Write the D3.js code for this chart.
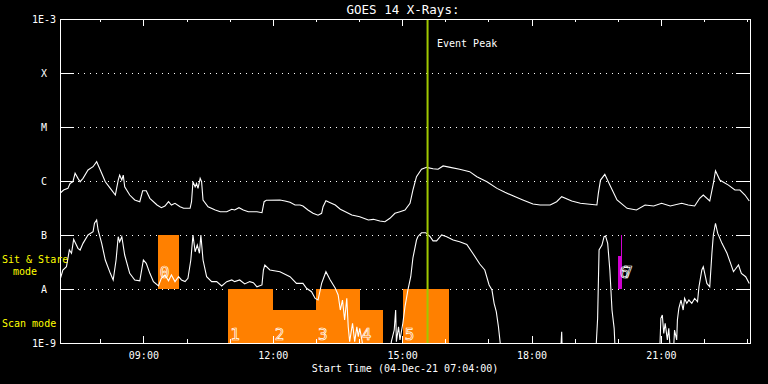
<!DOCTYPE html>
<html>
<head>
<meta charset="utf-8">
<script src="https://cdn.jsdelivr.net/npm/d3@7"></script>
<style>
body { margin: 0; background: #000; }
svg { display: block; background: #000; }
text { font-family: "DejaVu Sans Mono", monospace; fill: #fff; font-size: 10px; }
</style>
</head>
<body>
<svg class="chart" width="768" height="384"></svg>
<script>
// long channel (1-8 A), upper curve
const longTimes = ["07:04","07:09","07:15","07:18","07:22","07:25","07:29","07:32","07:36","07:43","07:50","07:55","07:57","08:02","08:07","08:14","08:21","08:25","08:27","08:30","08:32","08:34","08:41","08:48","08:55","08:59","09:04","09:09","09:19","09:25","09:30","09:35","09:39","09:44","09:51","09:56","10:05","10:07","10:09","10:12","10:14","10:16","10:19","10:21","10:23","10:30","10:40","10:47","10:56","11:03","11:07","11:13","11:19","11:26","11:38","11:45","11:48","11:51","12:10","12:17","12:24","12:31","12:38","12:42","12:49","12:56","13:03","13:08","13:10","13:14","13:20","13:27","13:34","13:41","13:50","14:01","14:13","14:20","14:29","14:36","14:43","14:50","14:57","15:04","15:11","15:15","15:20","15:27","15:34","15:43","15:50","15:57","16:07","16:20","16:34","16:44","16:58","17:12","17:23","17:39","17:48","18:02","18:12","18:26","18:35","18:42","18:56","19:08","19:21","19:31","19:33","19:36","19:42","19:49","19:59","20:13","20:26","20:38","20:50","21:01","21:13","21:29","21:38","21:47","21:54","21:59","22:08","22:13","22:16","22:22","22:34","22:43","22:50","22:57","23:03"];
const longFlux = [5.9e-7,6.8e-7,7.3e-7,9.0e-7,9.7e-7,1.39e-6,1.12e-6,9.7e-7,1.12e-6,1.6e-6,1.84e-6,2.28e-6,1.98e-6,1.39e-6,9.7e-7,7.3e-7,5.5e-7,1.04e-6,1.29e-6,1.04e-6,1.29e-6,7.8e-7,5.5e-7,4.45e-7,4.14e-7,6.6e-7,6.6e-7,4.78e-7,3.59e-7,3.2e-7,3.44e-7,4.14e-7,3.59e-7,3.86e-7,3.34e-7,3.12e-7,3.12e-7,4.14e-7,9.7e-7,7.8e-7,9.0e-7,7.3e-7,1.12e-6,9.7e-7,4.45e-7,3.34e-7,2.9e-7,2.7e-7,2.7e-7,2.99e-7,2.9e-7,3.2e-7,2.9e-7,2.7e-7,2.7e-7,2.59e-7,4.14e-7,4.4e-7,4.45e-7,4.26e-7,4.03e-7,3.59e-7,3.59e-7,3.44e-7,2.9e-7,2.52e-7,2.32e-7,2.52e-7,3.34e-7,4.32e-7,3.97e-7,3.59e-7,3.0e-7,2.7e-7,2.35e-7,2.18e-7,1.9e-7,1.95e-7,1.82e-7,1.76e-7,2.04e-7,2.52e-7,2.7e-7,2.9e-7,3.86e-7,6.8e-7,1.2e-6,1.65e-6,1.79e-6,1.69e-6,1.65e-6,1.9e-6,1.79e-6,1.65e-6,1.49e-6,1.2e-6,9.7e-7,7.3e-7,6.17e-7,4.99e-7,4.45e-7,3.75e-7,3.59e-7,3.59e-7,4.14e-7,5.12e-7,4.26e-7,3.86e-7,3.7e-7,3.59e-7,5.9e-7,1.04e-6,1.33e-6,8.4e-7,4.45e-7,3.12e-7,2.9e-7,3.59e-7,3.44e-7,3.86e-7,3.44e-7,3.86e-7,3.59e-7,3.44e-7,4.78e-7,5.5e-7,4.26e-7,9.0e-7,1.55e-6,1.04e-6,8.4e-7,6.8e-7,6.8e-7,5.5e-7,4.26e-7];

// short channel (0.5-4 A), lower curve
const shortTimes = ["07:04","07:08","07:13","07:17","07:20","07:23","07:29","07:32","07:36","07:43","07:50","07:52","07:55","07:57","08:02","08:07","08:14","08:18","08:22","08:25","08:27","08:30","08:34","08:41","08:48","08:55","09:00","09:04","09:09","09:14","09:21","09:25","09:30","09:35","09:39","09:44","09:49","09:53","09:58","10:02","10:06","10:09","10:12","10:15","10:18","10:20","10:23","10:28","10:35","10:42","10:49","10:56","11:03","11:07","11:14","11:21","11:28","11:33","11:38","11:45","11:47","11:49","11:56","12:10","12:24","12:33","12:42","12:47","12:54","12:59","13:03","13:08","13:14","13:20","13:27","13:31","13:34","13:37","13:40","13:43","13:45","13:47","13:51","13:54","13:57","13:59","14:01","14:04","14:08","14:43","14:45","14:49","14:51","14:52","14:55","14:57","15:01","15:04","15:08","15:12","15:15","15:20","15:22","15:27","15:33","15:39","15:43","15:48","15:55","16:02","16:11","16:20","16:30","16:39","16:48","16:55","17:01","17:05","17:08","17:11","17:14","17:16","17:19","18:40","18:42","18:43","19:29","19:32","19:34","19:38","19:41","19:43","19:46","19:49","19:52","19:55","19:57","20:58","21:00","21:02","21:04","21:06","21:09","21:11","21:14","21:17","21:19","21:22","21:23","21:25","21:28","21:31","21:33","21:36","21:39","21:43","21:47","21:51","21:53","21:57","21:59","22:01","22:04","22:08","22:11","22:13","22:16","22:19","22:25","22:32","22:37","22:41","22:48","22:52","22:58","23:03"];
const shortFlux = [1.47e-8,2.25e-8,2.59e-8,5.27e-8,4.58e-8,8.3e-8,5.67e-8,5.27e-8,7.0e-8,1.0e-7,1.15e-7,1.65e-7,1.9e-7,1.24e-7,7.0e-8,3.44e-8,1.95e-8,1.47e-8,3.44e-8,9.3e-8,7.5e-8,9.3e-8,4.26e-8,1.95e-8,1.47e-8,1.42e-8,3.44e-8,2.99e-8,1.95e-8,1.37e-8,1.14e-8,1.58e-8,1.82e-8,1.42e-8,1.82e-8,1.37e-8,1.69e-8,1.47e-8,1.37e-8,1.58e-8,3.44e-8,1.0e-7,4.9e-8,6.52e-8,4.58e-8,1.0e-7,3.44e-8,1.69e-8,1.37e-8,1.37e-8,1.14e-8,1.37e-8,1.47e-8,1.37e-8,1.47e-8,1.24e-8,1.37e-8,1.31e-8,1.1e-8,1.19e-8,2.25e-8,2.78e-8,2.25e-8,2.09e-8,1.69e-8,1.27e-8,1.27e-8,1.03e-8,8.9e-9,6.7e-9,6.25e-9,1.27e-8,2.09e-8,1.47e-8,1.03e-8,7.74e-9,4.08e-9,6.25e-9,2.67e-9,6.7e-9,2.0e-9,1.06e-9,2.32e-9,1.06e-9,2.0e-9,1.31e-9,1.87e-9,1.14e-9,5e-10,5e-10,1.06e-9,1.74e-9,4.08e-9,1.06e-9,2.0e-9,1.14e-9,2.32e-9,4.7e-9,9.56e-9,1.69e-8,3.75e-8,8.07e-8,9.4e-8,1.1e-7,1.1e-7,9.3e-8,7.8e-8,7.8e-8,1.0e-7,9.3e-8,8.07e-8,7.5e-8,6.7e-8,4.45e-8,2.9e-8,2.25e-8,1.19e-8,9.56e-9,5.43e-9,3.8e-9,2.0e-9,1.14e-9,5e-10,5e-10,1.62e-9,5e-10,5e-10,2.87e-9,5.27e-8,6.52e-8,9.3e-8,9.6e-8,7.0e-8,2.25e-8,4.08e-9,1.87e-9,5e-10,5e-10,2.87e-9,3.3e-9,1.51e-9,2.32e-9,1.14e-9,1.87e-9,5e-10,5e-10,1.74e-9,1.14e-9,2.67e-9,4.4e-9,6.25e-9,4.08e-9,6.7e-9,5.43e-9,6.25e-9,5.43e-9,6.7e-9,5.8e-9,1.1e-8,2.25e-8,2.59e-8,1.95e-8,1.27e-8,1.1e-8,4.58e-8,1.0e-7,1.65e-7,1.08e-7,7.0e-8,4.58e-8,2.99e-8,2.09e-8,2.78e-8,1.95e-8,1.69e-8,1.27e-8];

// observing blocks (sit & stare / scan)
const blockNames = ["0","1","2","3","4","5","6","7"];
const blockStart = ["09:20","10:58","12:00","13:00","14:01","15:01","20:00","20:05"];
const blockEnd   = ["09:49","12:00","13:00","14:01","14:33","16:05","20:06","20:06"];
const blockLow   = [1e-8,1e-9,1e-9,1e-9,1e-9,1e-9,1e-8,1e-8];
const blockHigh  = [1e-7,1e-8,4e-9,1e-8,4e-9,1e-8,4e-8,1e-7];
const blockMode  = ["stare","scan","scan","scan","scan","scan","other","other"];

const peakTime = "15:34";
const yTickVals = [1e-9,1e-8,1e-7,1e-6,1e-5,1e-4,1e-3];
const yTickLabels = ["1E-9","A","B","C","M","X","1E-3"];

const svg = d3.select(".chart");
const parseTime = d3.timeParse("%Y-%m-%d %H:%M");
const t = s => parseTime("2021-12-04 " + s);

const plotLeft = 60, plotRight = 750, plotTop = 19, plotBottom = 343;

const x = d3.scaleTime().domain([t("07:04"), t("23:04")]).range([plotLeft, plotRight]);
const y = d3.scaleLog().domain([1e-9, 1e-3]).range([plotBottom, plotTop]);

const blockColor = { stare: "#ff8000", scan: "#ff8000", other: "#d000d0" };

svg.append("defs").append("clipPath").attr("id", "plot")
    .append("rect").attr("x", plotLeft).attr("y", plotTop)
    .attr("width", plotRight - plotLeft).attr("height", plotBottom - plotTop);

// dotted grid
svg.append("g").selectAll("line")
    .data(yTickVals.slice(1, -1))
    .enter().append("line")
    .attr("x1", plotLeft + 18).attr("x2", plotRight - 14)
    .attr("y1", d => Math.round(y(d)) + 0.5).attr("y2", d => Math.round(y(d)) + 0.5)
    .attr("stroke", "#fff").attr("stroke-dasharray", "1,5");

// blocks
const blocks = blockNames.map((n, i) => ({
    name: n, start: t(blockStart[i]), end: t(blockEnd[i]),
    low: blockLow[i], high: blockHigh[i], mode: blockMode[i]
}));

svg.append("g").selectAll("rect")
    .data(blocks)
    .enter().append("rect")
    .attr("x", d => x(d.start))
    .attr("width", d => x(d.end) - x(d.start))
    .attr("y", d => y(d.high))
    .attr("height", d => y(d.low) - y(d.high))
    .attr("fill", d => blockColor[d.mode])
    .attr("shape-rendering", "crispEdges");

// curves
const line = d3.line().x(d => x(d.t)).y(d => y(d.f));
const longData = longTimes.map((s, i) => ({ t: t(s), f: longFlux[i] }));
const shortData = shortTimes.map((s, i) => ({ t: t(s), f: shortFlux[i] }));

const curves = svg.append("g").attr("clip-path", "url(#plot)");
[longData, shortData].forEach(d => {
    curves.append("path")
        .datum(d)
        .attr("d", line)
        .attr("fill", "none")
        .attr("stroke", "#fff")
        .attr("stroke-width", 1.1);
});

// block labels
svg.append("g").selectAll("text")
    .data(blocks)
    .enter().append("text")
    .attr("x", d => x(d.start) + 2)
    .attr("y", d => y(d.low) - (d.mode === "scan" ? 3 : 11))
    .style("font-size", "16px")
    .style("fill", "none")
    .style("stroke", "#fff")
    .style("stroke-width", 0.7)
    .text(d => d.name);

// event peak
svg.append("line")
    .attr("x1", x(t(peakTime)) + 1).attr("x2", x(t(peakTime)) + 1)
    .attr("y1", plotTop).attr("y2", plotBottom)
    .attr("stroke", "#a0c800").attr("stroke-width", 2);

svg.append("text").attr("x", 437).attr("y", 47).text("Event Peak");

// axes
function styleAxis(g) {
    g.select(".domain").remove();
    g.selectAll("line").attr("stroke", "#fff").attr("shape-rendering", "crispEdges");
    g.selectAll("text").style("fill", "#fff").style("font-size", "10px")
        .style("font-family", '"DejaVu Sans Mono", monospace');
}

svg.append("g").attr("transform", `translate(0,${plotBottom})`)
    .call(d3.axisBottom(x).ticks(d3.timeHour.every(1)).tickSize(-4).tickSizeOuter(0).tickFormat(""))
    .call(styleAxis);
svg.append("g").attr("transform", `translate(0,${plotBottom})`)
    .call(d3.axisBottom(x).ticks(d3.timeHour.every(3)).tickSize(-7).tickSizeOuter(0).tickFormat(d3.timeFormat("%H:%M")))
    .call(styleAxis)
    .call(g => g.selectAll("text").attr("y", 16).attr("dy", null));

svg.append("g").attr("transform", `translate(0,${plotTop})`)
    .call(d3.axisTop(x).ticks(d3.timeHour.every(1)).tickSize(-3).tickSizeOuter(0).tickFormat(""))
    .call(styleAxis);
svg.append("g").attr("transform", `translate(0,${plotTop})`)
    .call(d3.axisTop(x).ticks(d3.timeHour.every(3)).tickSize(-7).tickSizeOuter(0).tickFormat(""))
    .call(styleAxis);

svg.append("g").attr("transform", `translate(${plotLeft},0)`)
    .call(d3.axisLeft(y).tickValues(yTickVals).tickSize(-14).tickSizeOuter(0).tickFormat((d, i) => yTickLabels[i]))
    .call(styleAxis)
    .call(g => g.selectAll("text").attr("x", -16).attr("text-anchor", "middle"));

svg.append("g").attr("transform", `translate(${plotRight},0)`)
    .call(d3.axisRight(y).tickValues(yTickVals).tickSize(-14).tickSizeOuter(0).tickFormat(""))
    .call(styleAxis);

// frame
svg.append("rect")
    .attr("x", plotLeft).attr("y", plotTop)
    .attr("width", plotRight - plotLeft).attr("height", plotBottom - plotTop)
    .attr("fill", "none").attr("stroke", "#fff")
    .attr("shape-rendering", "crispEdges");

// titles and side labels
svg.append("text").attr("x", 403).attr("y", 14)
    .attr("text-anchor", "middle").style("font-size", "12.5px")
    .text("GOES 14 X-Rays:");

svg.append("text").attr("x", 405).attr("y", 372)
    .attr("text-anchor", "middle")
    .text("Start Time (04-Dec-21 07:04:00)");

svg.append("text").attr("x", 2).attr("y", 263).style("fill", "#ffff00").text("Sit & Stare");
svg.append("text").attr("x", 13).attr("y", 275).style("fill", "#ffff00").text("mode");
svg.append("text").attr("x", 2).attr("y", 327).style("fill", "#ffff00").text("Scan mode");
</script>
</body>
</html>
